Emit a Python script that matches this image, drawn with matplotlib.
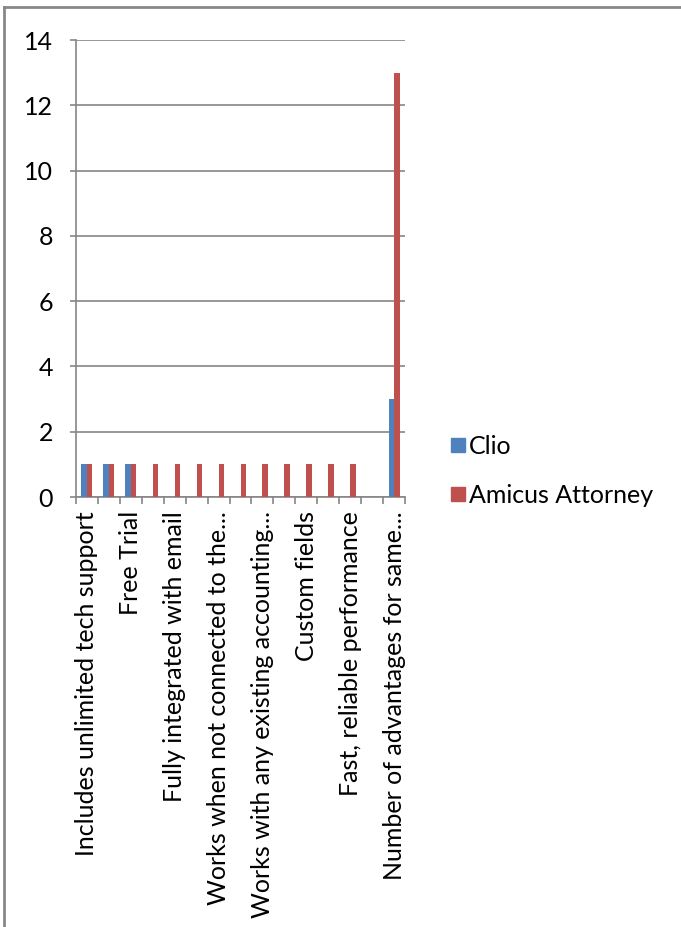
import numpy as np
import matplotlib
matplotlib.use("Agg")
from matplotlib import pyplot as plt
from matplotlib.lines import Line2D

# 15 categories; Excel only printed every other label
categories = [
    "Includes unlimited tech support", "",
    "Free Trial", "",
    "Fully integrated with email", "",
    "Works when not connected to the...", "",
    "Works with any existing accounting...", "",
    "Custom fields", "",
    "Fast, reliable performance", "",
    "Number of advantages for same...",
]
clio = [1, 1, 1, 0, 0, 0, 0, 0, 0, 0, 0, 0, 0, 0, 3]
amicus = [1, 1, 1, 1, 1, 1, 1, 1, 1, 1, 1, 1, 1, 0, 13]
series_names = ["Clio", "Amicus Attorney"]
y_ticks = [0, 2, 4, 6, 8, 10, 12, 14]

BLUE = "#4F81BD"
RED = "#C0504D"
GRID = "#868686"
FS = 18

plt.rcParams["font.family"] = ["Lato", "DejaVu Sans"]

W, H = 681, 927
fig = plt.figure(figsize=(W / 100, H / 100), dpi=100)
ax = fig.add_axes([76 / W, 1 - 497 / H, (405 - 76) / W, (497 - 40) / H])

x = np.arange(len(categories))
bw = 0.25
ax.bar(x - bw / 2, clio, bw, color=BLUE, label=series_names[0], zorder=3)
ax.bar(x + bw / 2, amicus, bw, color=RED, label=series_names[1], zorder=3)

ax.set_xlim(-0.5, len(categories) - 0.5)
ax.set_ylim(0, 14)
ax.set_yticks(y_ticks)
ax.yaxis.grid(True, color=GRID, linewidth=1.2, zorder=0)

ax.set_xticks(x)
ax.set_xticklabels(categories, rotation=90, fontsize=FS)
ax.tick_params(axis="x", which="major", length=0, pad=10)
ax.set_xticks(np.arange(len(categories) + 1) - 0.5, minor=True)
ax.tick_params(axis="x", which="minor", length=5, color=GRID, width=1.2)
ax.tick_params(axis="y", length=4.5, color=GRID, width=1.2, labelsize=FS, pad=12)

for s in ["top", "right"]:
    ax.spines[s].set_visible(False)
for s in ["left", "bottom"]:
    ax.spines[s].set_color(GRID)
    ax.spines[s].set_linewidth(1.2)

handles = [
    Line2D([], [], marker="s", linestyle="", markersize=10.5, color=BLUE),
    Line2D([], [], marker="s", linestyle="", markersize=10.5, color=RED),
]
fig.legend(handles, series_names, loc="center left",
           bbox_to_anchor=(449 / W, 1 - 471 / H), frameon=False,
           fontsize=FS, handletextpad=0.1, handlelength=0.7,
           labelspacing=1.05, borderaxespad=0, borderpad=0)

# figure frame (top and left edges only visible in the reference)
fig.add_artist(Line2D([4 / W, 4 / W], [0, 1 - 7 / H], color="#888888",
                      linewidth=2, transform=fig.transFigure))
fig.add_artist(Line2D([4 / W, 1], [1 - 7 / H, 1 - 7 / H], color="#888888",
                      linewidth=2, transform=fig.transFigure))

plt.savefig("out.png", dpi=100)
